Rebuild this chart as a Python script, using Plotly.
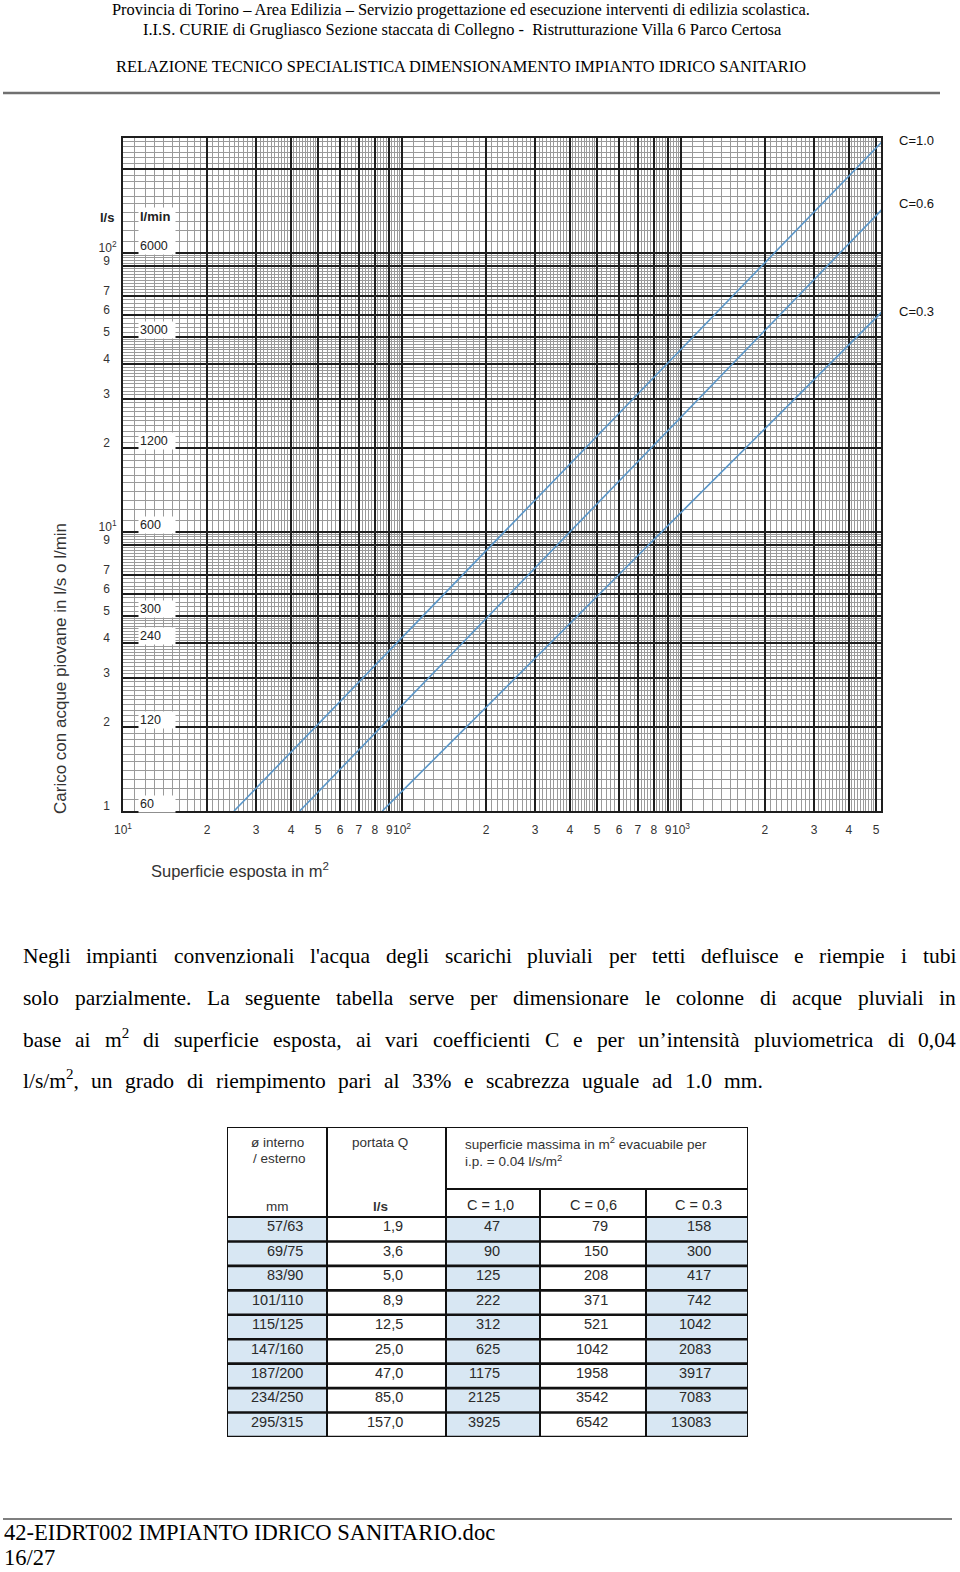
import math
import plotly.graph_objects as go

W, H = 960, 1572

# ----------------------------- data -----------------------------
# rain-load lines (surface m2 -> load l/s)
area_c10 = [25, 5250]
load_c10 = [1.0, 250]
area_c06 = [43, 5250]
load_c06 = [1.0, 143]
area_c03 = [85, 5250]
load_c03 = [1.0, 61.5]
c_labels = ["C=1.0", "C=0.6", "C=0.3"]

x_tickvals = [10, 20, 30, 40, 50, 60, 70, 80, 90,
              100, 200, 300, 400, 500, 600, 700, 800, 900,
              1000, 2000, 3000, 4000, 5000]
x_ticktext = ["10<sup>1</sup>", "2", "3", "4", "5", "6", "7", "8", "9",
              "10<sup>2</sup>", "2", "3", "4", "5", "6", "7", "8", "9",
              "10<sup>3</sup>", "2", "3", "4", "5"]
y_tickvals = [1, 2, 3, 4, 5, 6, 7, 9, 10, 20, 30, 40, 50, 60, 70, 90, 100, 200]
y_ticktext = ["1", "2", "3", "4", "5", "6", "7", "9", "10<sup>1</sup>",
              "2", "3", "4", "5", "6", "7", "9", "10<sup>2</sup>", ""]
lmin_labels = [6000, 3000, 1200, 600, 300, 240, 120, 60]

tab_diam = ["57/63", "69/75", "83/90", "101/110", "115/125", "147/160",
            "187/200", "234/250", "295/315"]
tab_q = ["1,9", "3,6", "5,0", "8,9", "12,5", "25,0", "47,0", "85,0", "157,0"]
tab_c10 = [47, 90, 125, 222, 312, 625, 1175, 2125, 3925]
tab_c06 = [79, 150, 208, 371, 521, 1042, 1958, 3542, 6542]
tab_c03 = [158, 300, 417, 742, 1042, 2083, 3917, 7083, 13083]

header_lines = [
    "Provincia di Torino – Area Edilizia – Servizio progettazione ed esecuzione interventi di edilizia scolastica.",
    "I.I.S. CURIE di Grugliasco Sezione staccata di Collegno -\u00a0 Ristrutturazione Villa 6 Parco Certosa",
    "RELAZIONE TECNICO SPECIALISTICA DIMENSIONAMENTO IMPIANTO IDRICO SANITARIO",
]
para_lines = [
    "Negli impianti convenzionali l'acqua degli scarichi pluviali per tetti defluisce e riempie i tubi",
    "solo parzialmente. La seguente tabella serve per dimensionare le colonne di acque pluviali in",
    "base ai m<sup>2</sup> di superficie esposta, ai vari coefficienti C e per un’intensità pluviometrica di 0,04",
    "l/s/m<sup>2</sup>, un grado di riempimento pari al 33% e scabrezza uguale ad 1.0 mm.",
]
footer_lines = ["42-EIDRT002 IMPIANTO IDRICO SANITARIO.doc", "16/27"]

# ----------------------------- helpers -----------------------------
SERIF = "Liberation Serif, Times New Roman, serif"
SANS = "Liberation Sans, Arial, sans-serif"
NB = "\u00a0"

TW = {' ': .25, NB: .25, '.': .25, ',': .25, '-': .333, '–': .5, "'": .18, '’': .333,
      '/': .278, '%': .833, 'à': .444,
      'a': .444, 'b': .5, 'c': .444, 'd': .5, 'e': .444, 'f': .333, 'g': .5, 'h': .5, 'i': .278,
      'j': .278, 'k': .5, 'l': .278, 'm': .778, 'n': .5, 'o': .5, 'p': .5, 'q': .5, 'r': .333,
      's': .389, 't': .278, 'u': .5, 'v': .5, 'w': .722, 'x': .5, 'y': .5, 'z': .444,
      'A': .722, 'B': .667, 'C': .667, 'D': .722, 'E': .611, 'F': .556, 'G': .722, 'H': .722,
      'I': .333, 'J': .389, 'K': .722, 'L': .611, 'M': .889, 'N': .722, 'O': .722, 'P': .556,
      'Q': .722, 'R': .667, 'S': .556, 'T': .611, 'U': .722, 'V': .722, 'W': .944, 'X': .722,
      'Y': .722, 'Z': .611}
for d in "0123456789":
    TW[d] = .5


def text_em(t):
    em, scale, i = 0.0, 1.0, 0
    while i < len(t):
        if t.startswith('<sup>', i):
            scale = 0.7; i += 5; continue
        if t.startswith('</sup>', i):
            scale = 1.0; i += 6; continue
        em += TW.get(t[i], 0.5) * scale
        i += 1
    return em


def px(x):
    return x / W


def py(y):
    return 1 - y / H


def minor_vals(include8=False):
    vals = []
    for e in range(0, 4):
        d = 10 ** e
        ms = [1 + 0.1 * k for k in range(1, 10)]
        ms += [2 + 0.1 * k for k in range(1, 30) if k % 10]
        ms += [5 + 0.2 * k for k in range(1, 25) if k % 5]
        if include8:
            ms += [8.0]
        vals += [round(m * d, 6) for m in ms]
    return vals


# y tick labels: plain digits sit a little further from the frame than the powers of ten
y_tick_disp = [t if (t.startswith("10") or t == "") else t + NB * 2 for t in y_ticktext]

annotations = []
shapes = []

# ----------------------------- chart -----------------------------
fig = go.Figure()
line_col = "#5a96c8"
for ax, ld in [(area_c10, load_c10), (area_c06, load_c06), (area_c03, load_c03)]:
    fig.add_trace(go.Scatter(x=ax, y=ld, mode="lines", line=dict(color=line_col, width=1.6),
                             hoverinfo="skip", showlegend=False, xaxis="x", yaxis="y"))

for lab, ld, ys in zip(c_labels, [load_c10[-1], load_c06[-1], load_c03[-1]], [1, 6, 0]):
    annotations.append(dict(x=px(897), xref="paper", y=math.log10(ld), yref="y", yshift=ys,
                            text=lab, showarrow=False, xanchor="left", yanchor="middle",
                            font=dict(family=SANS, size=13, color="#111")))

# l/min heading box (drawn first so the value boxes sit on top)
annotations.append(dict(x=px(138), xref="paper", y=py(207), yref="paper", text="<b>l/min</b>",
                        showarrow=False, xanchor="left", yanchor="top", align="left",
                        valign="top", width=34, height=30, bgcolor="white", borderpad=1,
                        font=dict(family=SANS, size=13, color="#222")))
for v in lmin_labels:
    annotations.append(dict(x=px(138), xref="paper", y=math.log10(v / 60.0), yref="y", yshift=7,
                            text=str(v), showarrow=False, xanchor="left", yanchor="middle",
                            align="left", width=34, bgcolor="white", borderpad=1,
                            font=dict(family=SANS, size=12.5, color="#222")))
annotations.append(dict(x=px(107), xref="paper", y=py(217), yref="paper", text="<b>l/s</b>",
                        showarrow=False, xanchor="center", yanchor="middle",
                        font=dict(family=SANS, size=13, color="#222")))
annotations.append(dict(x=px(61), xref="paper", y=py(669), yref="paper",
                        text="Carico con acque piovane in l/s o l/min", textangle=-90,
                        showarrow=False, xanchor="center", yanchor="middle",
                        font=dict(family=SANS, size=17, color="#333")))
annotations.append(dict(x=px(240), xref="paper", y=py(870), yref="paper",
                        text="Superficie esposta in m<sup>2</sup>",
                        showarrow=False, xanchor="center", yanchor="middle",
                        font=dict(family=SANS, size=16.5, color="#333")))

# ----------------------------- page text -----------------------------
head_spans = [(110, 811, 9.5), (142, 782, 29.5), (114, 808, 66.5)]
for t, (x0, x1, yc) in zip(header_lines, head_spans):
    size = (x1 - x0) / text_em(t)
    annotations.append(dict(x=px((x0 + x1) / 2), xref="paper", y=py(yc), yref="paper", text=t,
                            showarrow=False, xanchor="center", yanchor="middle", borderpad=0,
                            font=dict(family=SERIF, size=size, color="#000")))

foot_spans = [(3, 498, 1532), (3, 55, 1557)]
fsize = (foot_spans[0][1] - foot_spans[0][0]) / text_em(footer_lines[0])
for t, (x0, x1, yc) in zip(footer_lines, foot_spans):
    annotations.append(dict(x=px(x0), xref="paper", y=py(yc), yref="paper", text=t,
                            showarrow=False, xanchor="left", yanchor="middle", borderpad=0,
                            font=dict(family=SERIF, size=fsize, color="#000")))

PS = 21.5
para_base = [964, 1006, 1048, 1089]
para_end = [955, 955, 955, 762]
for line, base, xe in zip(para_lines, para_base, para_end):
    words = line.split(" ")
    widths = [text_em(w) * PS for w in words]
    gap = (xe - 22 - sum(widths)) / (len(words) - 1)
    xpos = 22.0
    for w, wd in zip(words, widths):
        annotations.append(dict(x=px(xpos), xref="paper", y=py(base + 0.216 * PS), yref="paper",
                                text=w, showarrow=False, xanchor="left", yanchor="bottom",
                                borderpad=0, font=dict(family=SERIF, size=PS, color="#000")))
        xpos += wd + gap

shapes.append(dict(type="line", xref="paper", yref="paper", x0=px(3), x1=px(940),
                   y0=py(93), y1=py(93), line=dict(color="#707070", width=2.4)))
shapes.append(dict(type="line", xref="paper", yref="paper", x0=px(3), x1=px(952),
                   y0=py(1519), y1=py(1519), line=dict(color="#000", width=1.2)))

# ----------------------------- table (on its own axes) -----------------------------
col_w = [100, 119, 94, 106, 102]
col_edges = [0]
for cw in col_w:
    col_edges.append(col_edges[-1] + cw)
HEAD_H, SUB_Y, ROW_H = 90, 62, 220 / 9
TOT_H = HEAD_H + ROW_H * len(tab_diam)
blue = "#d8e7f3"
cols = [tab_diam, tab_q, [str(v) for v in tab_c10], [str(v) for v in tab_c06],
        [str(v) for v in tab_c03]]
pads = [22, 41, 38, 36, 35]
for j in range(5):
    for i in range(len(tab_diam)):
        y0 = HEAD_H + i * ROW_H
        if j in (0, 2, 4):
            shapes.append(dict(type="rect", xref="x2", yref="y2", x0=col_edges[j], x1=col_edges[j + 1],
                               y0=y0, y1=y0 + ROW_H, fillcolor=blue, line=dict(width=0), layer="below"))
        annotations.append(dict(x=col_edges[j + 1] - pads[j], xref="x2", y=y0 + 9.3, yref="y2",
                                text=cols[j][i], showarrow=False, xanchor="right", yanchor="middle",
                                font=dict(family=SANS, size=14.5, color="#2a2a2a")))
# borders
blk = "#111"
for yy in [0, HEAD_H]:
    shapes.append(dict(type="line", xref="x2", yref="y2", x0=0, x1=col_edges[-1], y0=yy, y1=yy,
                       line=dict(color=blk, width=2)))
shapes.append(dict(type="line", xref="x2", yref="y2", x0=col_edges[2], x1=col_edges[-1],
                   y0=SUB_Y, y1=SUB_Y, line=dict(color=blk, width=2)))
for i in range(1, len(tab_diam) + 1):
    yy = HEAD_H + i * ROW_H
    shapes.append(dict(type="line", xref="x2", yref="y2", x0=0, x1=col_edges[-1], y0=yy, y1=yy,
                       line=dict(color=blk, width=2.6)))
for k, xx in enumerate(col_edges):
    ytop = SUB_Y if k in (3, 4) else 0
    shapes.append(dict(type="line", xref="x2", yref="y2", x0=xx, x1=xx, y0=ytop, y1=TOT_H,
                       line=dict(color=blk, width=2)))

hfont = dict(family=SANS, size=13.5, color="#333")
head_txt = [("ø interno", 277, 15), ("/ esterno", 279, 31), ("portata Q", 380, 15),
            ("mm", 277, 79), ("<b>l/s</b>", 380, 79)]
for t, xc, yc in head_txt:
    annotations.append(dict(x=xc - 227, xref="x2", y=yc, yref="y2", text=t, showarrow=False,
                            xanchor="center", yanchor="middle", font=hfont))
for t, xc in [("C = 1,0", 490), ("C = 0,6", 593), ("C = 0.3", 698)]:
    annotations.append(dict(x=xc - 227, xref="x2", y=77.5, yref="y2", text=t, showarrow=False,
                            xanchor="center", yanchor="middle",
                            font=dict(family=SANS, size=14.5, color="#2a2a2a")))
annotations.append(dict(x=463 - 227, xref="x2", y=5, yref="y2",
                        text="superficie massima in m<sup>2</sup> evacuabile per<br>i.p. = 0.04 l/s/m<sup>2</sup>",
                        showarrow=False, xanchor="left", yanchor="top", align="left",
                        font=hfont))

# ----------------------------- layout -----------------------------
tickfont = dict(family=SANS, size=12, color="#333")
fig.update_layout(
    template="none",
    width=W, height=H, margin=dict(l=0, r=0, t=0, b=0, pad=0, autoexpand=False),
    paper_bgcolor="white", plot_bgcolor="white", showlegend=False,
    xaxis=dict(type="log", range=[1, 3.717], domain=[px(123), px(881)], anchor="y",
               tickvals=x_tickvals, ticktext=x_ticktext, ticks="", tickfont=tickfont,
               tickangle=0, ticklabelstandoff=7, automargin=False,
               showgrid=True, gridcolor="#1e1e1e", gridwidth=1.7,
               minor=dict(tickvals=minor_vals(), showgrid=True, gridcolor="#9a9a9a",
                          gridwidth=1, ticks=""),
               showline=True, linecolor="#1e1e1e", linewidth=2, mirror=True,
               zeroline=False, fixedrange=True),
    yaxis=dict(type="log", range=[0, 2.412], domain=[py(811), py(138)], anchor="x",
               tickvals=y_tickvals, ticktext=y_tick_disp, ticks="", tickfont=tickfont,
               tickangle=0, ticklabelstandoff=2, ticklabelshift=-5, automargin=False,
               showgrid=True, gridcolor="#1e1e1e", gridwidth=1.7,
               minor=dict(tickvals=minor_vals(include8=True), showgrid=True,
                          gridcolor="#9a9a9a", gridwidth=1, ticks=""),
               showline=True, linecolor="#1e1e1e", linewidth=2, mirror=True,
               zeroline=False, fixedrange=True),
    xaxis2=dict(range=[0, col_edges[-1]], domain=[px(227), px(748)], anchor="y2",
                visible=False, fixedrange=True, automargin=False),
    yaxis2=dict(range=[TOT_H, 0], domain=[py(1127 + TOT_H), py(1127)], anchor="x2",
                visible=False, fixedrange=True, automargin=False),
    annotations=annotations, shapes=shapes,
)
# invisible trace to activate the table axes
fig.add_trace(go.Scatter(x=[0], y=[0], xaxis="x2", yaxis="y2", mode="markers",
                         marker=dict(opacity=0), hoverinfo="skip", showlegend=False))

fig.write_html("out.html")
